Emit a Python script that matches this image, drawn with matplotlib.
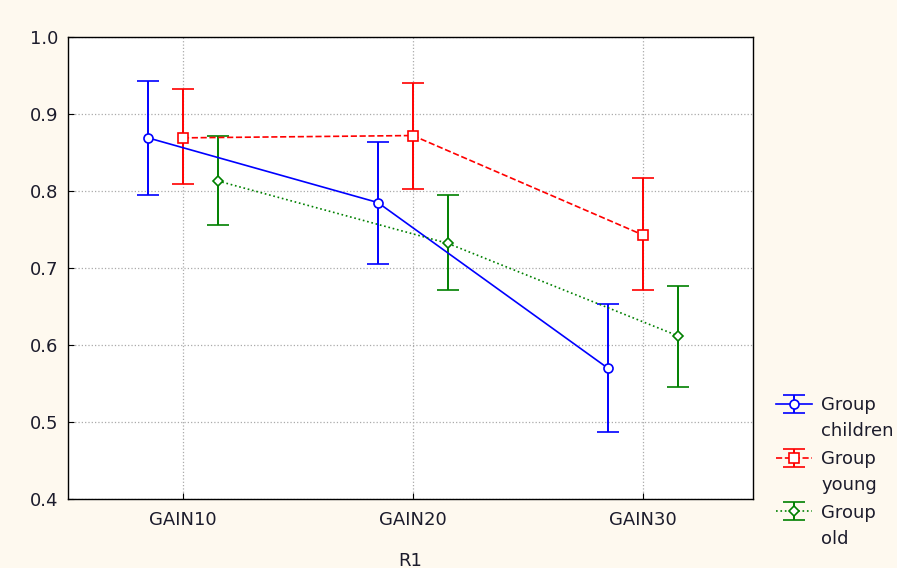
import numpy as np
import matplotlib
matplotlib.use('Agg')
import matplotlib.pyplot as plt

plt.rcParams['font.family'] = ['DejaVu Sans']

conditions = ['GAIN10', 'GAIN20', 'GAIN30']
group_names = ['children', 'young', 'old']

children_mean = [0.869, 0.785, 0.570]
children_up = [0.943, 0.864, 0.653]
children_lo = [0.795, 0.705, 0.487]

young_mean = [0.869, 0.872, 0.743]
young_up = [0.932, 0.940, 0.817]
young_lo = [0.809, 0.803, 0.671]

old_mean = [0.813, 0.732, 0.612]
old_up = [0.871, 0.795, 0.677]
old_lo = [0.756, 0.671, 0.545]

bg = '#fef9ef'
txtcol = '#1c1c2c'
fs = 13
fig = plt.figure(figsize=(8.97, 5.68), dpi=100, facecolor=bg)
ax = fig.add_axes([0.0758, 0.1215, 0.7637, 0.8134])
ax.set_facecolor('white')

x = np.arange(len(conditions))
series = [
    (children_mean, children_lo, children_up, -0.152, 'blue', '-', 'o', 6.5),
    (young_mean, young_lo, young_up, 0.0, 'red', '--', 's', 6.5),
    (old_mean, old_lo, old_up, 0.152, 'green', ':', 'D', 5.0),
]
for (m, lo, up, off, col, ls, mk, ms), name in zip(series, group_names):
    m = np.array(m)
    err = [m - np.array(lo), np.array(up) - m]
    ax.errorbar(x + off, m, yerr=err, color=col, ls=ls, lw=1.2,
                marker=mk, ms=ms, mfc='white', mec=col, mew=1.2,
                capsize=8, capthick=1.4, elinewidth=1.4, label='Group')

ax.set_xlim(-0.5, 2.48)
ax.set_ylim(0.4, 1.0)
ax.set_xticks(x)
ax.set_xticklabels(conditions)
ax.set_yticks(np.arange(0.4, 1.01, 0.1))
ax.set_yticklabels(['%.1f' % v for v in np.arange(0.4, 1.01, 0.1)])
ax.tick_params(direction='in', length=4, labelsize=fs, labelcolor=txtcol)
ax.tick_params(axis='x', pad=9)
ax.tick_params(axis='y', pad=7)
ax.grid(True, ls=':', color='#aaaaaa', lw=0.9)
for s in ax.spines.values():
    s.set_linewidth(1.0)
ax.set_xlabel('R1', fontsize=fs, color=txtcol, labelpad=16)

leg = ax.legend(loc='upper left', bbox_to_anchor=(1.034, 0.222), frameon=False,
                fontsize=fs, handlelength=2.0, handletextpad=0.5,
                labelspacing=1.97, borderaxespad=0, borderpad=0)
for t in leg.get_texts():
    t.set_color(txtcol)

# second line of each legend label, placed under "Group"
fig.canvas.draw()
inv = fig.transFigure.inverted()
for t, name in zip(leg.get_texts(), group_names):
    bb = t.get_window_extent()
    x0, y0 = inv.transform((bb.x0, bb.y0 - 8))
    fig.text(x0, y0, name, fontsize=fs, color=txtcol, va='top', ha='left')

fig.savefig('out.png', dpi=100, facecolor=bg)
